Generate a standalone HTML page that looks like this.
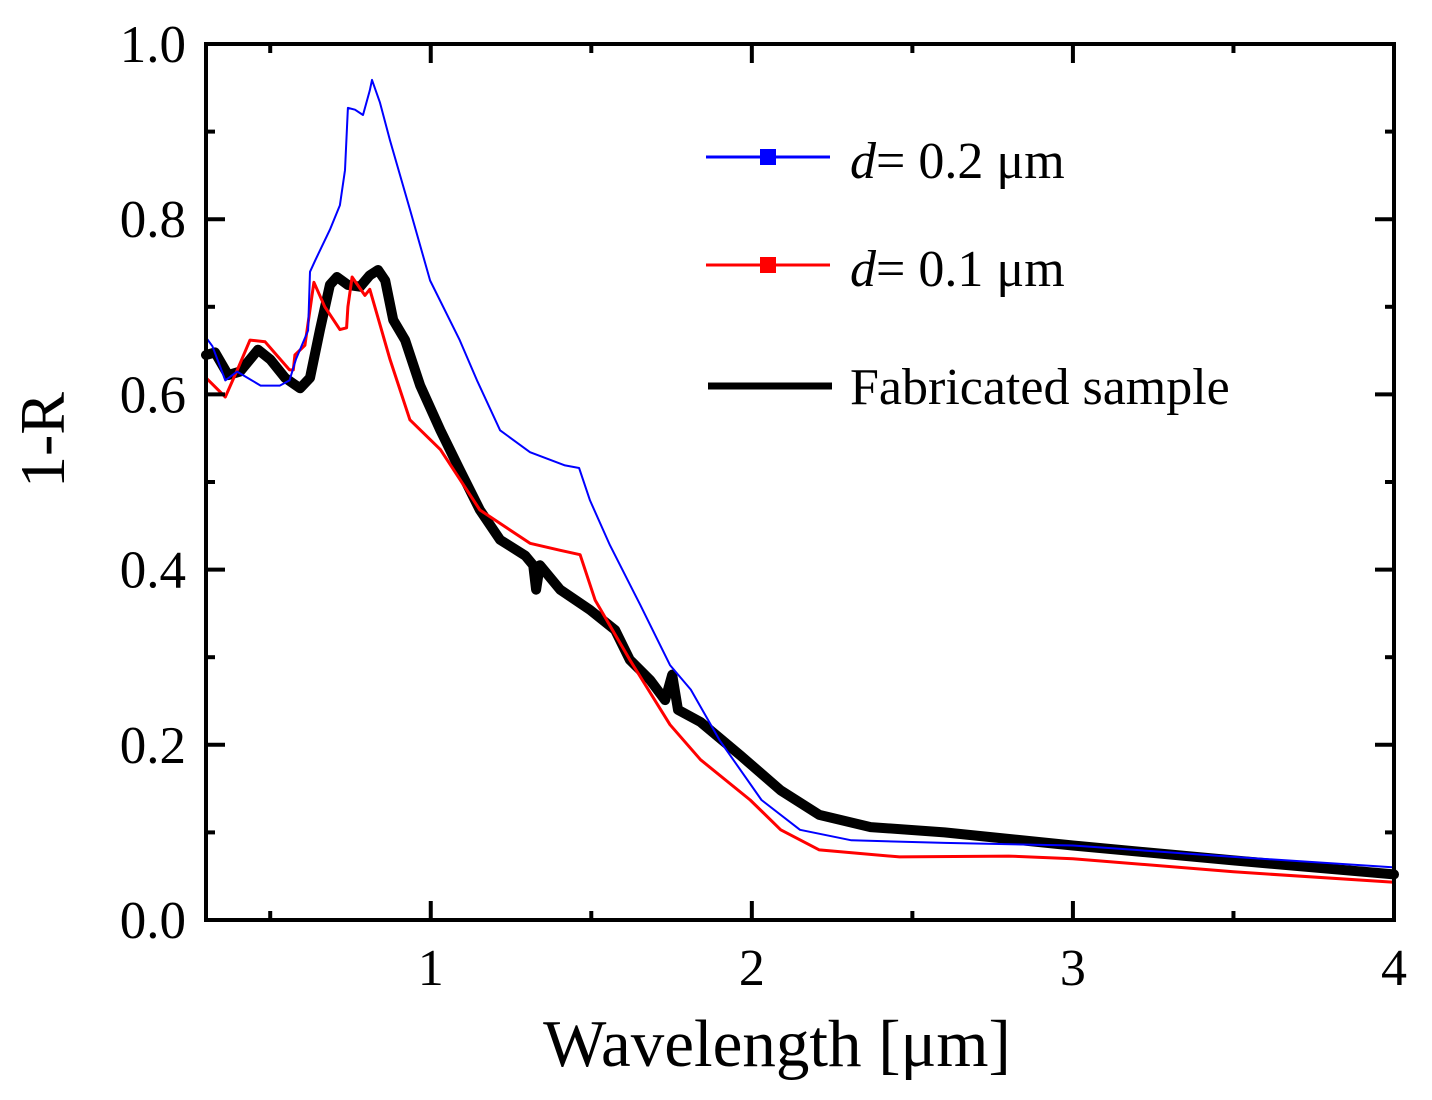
<!DOCTYPE html>
<html><head><meta charset="utf-8"><style>
html,body{margin:0;padding:0;background:#fff;}
svg{display:block;font-family:"Liberation Serif",serif;}
</style></head><body>
<svg id="chart" width="1432" height="1100" viewBox="0 0 1432 1100" xmlns="http://www.w3.org/2000/svg">
<rect width="1432" height="1100" fill="#fff"/>
<g id="series"></g>
<g id="axes"></g>
<text x="777" y="1066" font-size="67" text-anchor="middle">Wavelength [μm]</text>
<text transform="translate(64,440) rotate(-90)" font-size="64" text-anchor="middle">1-R</text>
<g>
  <g>
    <line x1="706" y1="157" x2="830" y2="157" stroke="#0000ff" stroke-width="3"/>
    <rect x="760" y="149" width="16" height="16" fill="#0000ff"/>
    <text x="850" y="178" font-size="52"><tspan font-style="italic">d</tspan>= 0.2 μm</text>
  </g>
  <g>
    <line x1="706" y1="265" x2="830" y2="265" stroke="#ff0000" stroke-width="3"/>
    <rect x="760" y="257" width="16" height="16" fill="#ff0000"/>
    <text x="850" y="286" font-size="52"><tspan font-style="italic">d</tspan>= 0.1 μm</text>
  </g>
  <g>
    <line x1="708" y1="386" x2="832" y2="386" stroke="#000" stroke-width="7"/>
    <text x="850" y="404" font-size="52">Fabricated sample</text>
  </g>
</g>
</svg>
<script>
const xTicks = [1, 2, 3, 4];
const xMinor = [0.5, 1.5, 2.5, 3.5];
const yTicks = [0, 0.2, 0.4, 0.6, 0.8, 1.0];
const yMinor = [0.1, 0.3, 0.5, 0.7, 0.9];
const yTickLabels = ["0.0", "0.2", "0.4", "0.6", "0.8", "1.0"];

const blueX = [0.3,0.32,0.36,0.397,0.47,0.53,0.56,0.58,0.618,0.624,0.64,0.686,0.717,0.733,0.742,0.764,0.789,0.81,0.817,0.842,0.873,0.936,0.998,1.09,1.144,1.216,1.309,1.418,1.462,1.496,1.558,1.652,1.745,1.81,1.9,2.03,2.15,2.31,2.6,3.0,3.5,4.0];
const blueY = [0.665,0.655,0.616,0.626,0.61,0.61,0.616,0.64,0.673,0.74,0.753,0.788,0.816,0.856,0.927,0.925,0.919,0.947,0.959,0.933,0.89,0.81,0.73,0.662,0.616,0.559,0.534,0.519,0.516,0.479,0.428,0.36,0.291,0.263,0.205,0.137,0.103,0.091,0.088,0.085,0.072,0.06];

const redX = [0.3,0.36,0.4,0.437,0.484,0.56,0.572,0.577,0.608,0.636,0.67,0.717,0.738,0.742,0.755,0.795,0.81,0.873,0.935,1.03,1.153,1.309,1.403,1.465,1.512,1.62,1.745,1.84,1.995,2.09,2.21,2.46,2.8,3.0,3.5,4.0];
const redY = [0.619,0.597,0.63,0.662,0.66,0.628,0.628,0.645,0.656,0.728,0.70,0.674,0.676,0.70,0.734,0.713,0.72,0.64,0.571,0.537,0.468,0.43,0.422,0.417,0.365,0.297,0.223,0.183,0.137,0.103,0.08,0.072,0.073,0.07,0.055,0.043];

const fabX = [0.3,0.328,0.369,0.406,0.462,0.5,0.546,0.593,0.624,0.655,0.686,0.708,0.742,0.78,0.81,0.836,0.858,0.883,0.92,0.967,1.03,1.09,1.153,1.216,1.294,1.319,1.328,1.34,1.403,1.496,1.574,1.62,1.683,1.73,1.752,1.77,1.84,1.964,2.09,2.21,2.37,2.6,3.0,3.5,4.0];
const fabY = [0.645,0.648,0.622,0.626,0.651,0.64,0.619,0.607,0.619,0.674,0.725,0.734,0.725,0.723,0.736,0.742,0.73,0.685,0.662,0.61,0.559,0.514,0.468,0.434,0.416,0.405,0.377,0.405,0.377,0.354,0.331,0.297,0.274,0.251,0.28,0.24,0.226,0.188,0.148,0.12,0.106,0.1,0.085,0.068,0.052];

const L=206, R=1394, T=44, B=920, X0=0.3, X1=4, Y0=0, Y1=1;
function sx(v){return L+(v-X0)/(X1-X0)*(R-L);}
function sy(v){return B-(v-Y0)/(Y1-Y0)*(B-T);}
const NS="http://www.w3.org/2000/svg";
function mk(tag, attrs, parent){const e=document.createElementNS(NS,tag);for(const k in attrs)e.setAttribute(k,attrs[k]);parent.appendChild(e);return e;}

const series=document.getElementById('series');
function drawLine(xs, ys, color, w, name){
  let d='';
  for(let i=0;i<xs.length;i++){d+=(i?'L':'M')+sx(xs[i]).toFixed(1)+','+sy(ys[i]).toFixed(1);}
  const p=mk('path',{d:d,fill:'none',stroke:color,'stroke-width':w,'stroke-linejoin':'round','stroke-linecap':'round'},series);
  
  
}
drawLine(fabX, fabY, '#000', 10, 'fabricated-sample-line');
drawLine(redX, redY, '#ff0000', 3, 'd01-line');
drawLine(blueX, blueY, '#0000ff', 2, 'd02-line');

const axes=document.getElementById('axes');
const frame=mk('rect',{x:L,y:T,width:R-L,height:B-T,fill:'none',stroke:'#000','stroke-width':4},axes);


xTicks.forEach(v=>{
  const x=sx(v);
  mk('line',{x1:x,y1:B,x2:x,y2:B-19,stroke:'#000','stroke-width':4},axes);
  mk('line',{x1:x,y1:T,x2:x,y2:T+19,stroke:'#000','stroke-width':4},axes);
  const t=mk('text',{x:x,y:985,'font-size':52,'text-anchor':'middle'},axes);
  t.textContent=String(v);
  
  
});
xMinor.forEach(v=>{
  const x=sx(v);
  mk('line',{x1:x,y1:B,x2:x,y2:B-9,stroke:'#000','stroke-width':4},axes);
  mk('line',{x1:x,y1:T,x2:x,y2:T+9,stroke:'#000','stroke-width':4},axes);
});
yTicks.forEach((v,i)=>{
  const y=sy(v);
  mk('line',{x1:L,y1:y,x2:L+19,y2:y,stroke:'#000','stroke-width':4},axes);
  mk('line',{x1:R,y1:y,x2:R-19,y2:y,stroke:'#000','stroke-width':4},axes);
  const t=mk('text',{x:186,y:y+18,'font-size':53,'text-anchor':'end'},axes);
  t.textContent=yTickLabels[i];
  
  
});
yMinor.forEach(v=>{
  const y=sy(v);
  mk('line',{x1:L,y1:y,x2:L+9,y2:y,stroke:'#000','stroke-width':4},axes);
  mk('line',{x1:R,y1:y,x2:R-9,y2:y,stroke:'#000','stroke-width':4},axes);
});
</script>
</body></html>
